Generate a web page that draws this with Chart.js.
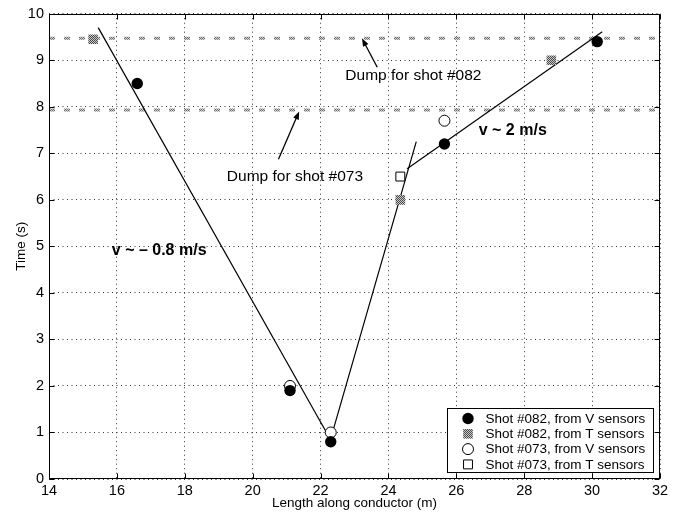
<!DOCTYPE html>
<html>
<head>
<meta charset="utf-8">
<script src="https://cdn.jsdelivr.net/npm/chart.js@4/dist/chart.umd.min.js"></script>
<style>
  html, body { margin: 0; padding: 0; background: #fff; }
  #wrap { width: 674px; height: 515px; }
</style>
</head>
<body>
<div id="wrap"><canvas id="c" width="674" height="515"></canvas></div>
<script>
// ---------------- data ----------------
const xTicks = [14, 16, 18, 20, 22, 24, 26, 28, 30, 32];
const yTicks = [0, 1, 2, 3, 4, 5, 6, 7, 8, 9, 10];

const shot082V_x = [16.6, 21.1, 22.3, 25.65, 30.15];
const shot082V_t = [8.5, 1.9, 0.8, 7.2, 9.4];
const shot082T_x = [15.3, 24.35, 28.8];
const shot082T_t = [9.45, 6.0, 9.0];
const shot073V_x = [21.1, 22.3, 25.65];
const shot073V_t = [2.0, 1.0, 7.7];
const shot073T_x = [24.35];
const shot073T_t = [6.5];

const dump082_t = 9.47;
const dump073_t = 7.93;

const fitDown_x = [15.45, 22.15];
const fitDown_t = [9.70, 1.03];
const fitUp_x = [22.32, 24.82];
const fitUp_t = [0.92, 7.25];
const fitSlow_x = [24.55, 30.3];
const fitSlow_t = [6.67, 9.61];

const seriesLabels = [
  'Shot #082, from V sensors',
  'Shot #082, from T sensors',
  'Shot #073, from V sensors',
  'Shot #073, from T sensors'
];
const noteTexts = ['Dump for shot #082', 'Dump for shot #073', 'v ~ \u2013 0.8 m/s', 'v ~ 2 m/s'];

// ---------------- helpers ----------------
const FONT = '"Liberation Sans", Arial, Helvetica, sans-serif';
function pts(xs, ys) { return xs.map((x, i) => ({ x: x, y: ys[i] })); }

function makeHalftone(light, dark) {
  const c = document.createElement('canvas');
  c.width = 2; c.height = 2;
  const g = c.getContext('2d');
  g.fillStyle = light; g.fillRect(0, 0, 2, 2);
  g.fillStyle = dark; g.fillRect(0, 0, 1, 1); g.fillRect(1, 1, 1, 1);
  return g.createPattern(c, 'repeat');
}
const halftone = makeHalftone('#c8c8c8', '#4a4a4a');
const dumpTone = makeHalftone('#d0d0d0', '#6a6a6a');

// annotation layout (data coordinates)
const notes = [
  { text: noteTexts[0], x: 22.73, y: 8.67, bold: false, size: 15.5, arrow: [[23.67, 8.85], [23.22, 9.47]] },
  { text: noteTexts[1], x: 19.24, y: 6.49, bold: false, size: 15.5, arrow: [[20.76, 6.87], [21.37, 7.90]] },
  { text: noteTexts[2], x: 15.85, y: 4.91, bold: true, size: 16, arrow: null },
  { text: noteTexts[3], x: 26.66, y: 7.49, bold: true, size: 16, arrow: null }
];

const framePlugin = {
  id: 'framePlugin',
  afterDatasetsDraw(chart) {
    const { ctx, chartArea: a, scales } = chart;
    ctx.save();
    ctx.strokeStyle = '#000';
    ctx.lineWidth = 1;
    const L = Math.round(a.left) + 0.5, R = Math.round(a.right) - 0.5;
    const T = Math.round(a.top) + 0.5, B = Math.round(a.bottom) - 0.5;
    ctx.strokeRect(L, T, R - L, B - T);
    const tl = 5;
    ctx.beginPath();
    xTicks.forEach(v => {
      const px = Math.round(scales.x.getPixelForValue(v)) + 0.5;
      ctx.moveTo(px, B); ctx.lineTo(px, B - tl);
      ctx.moveTo(px, T); ctx.lineTo(px, T + tl);
    });
    yTicks.forEach(v => {
      const py = Math.round(scales.y.getPixelForValue(v)) + 0.5;
      ctx.moveTo(L, py); ctx.lineTo(L + tl, py);
      ctx.moveTo(R, py); ctx.lineTo(R - tl, py);
    });
    ctx.stroke();

    // annotations
    ctx.fillStyle = '#000';
    ctx.textBaseline = 'middle';
    ctx.textAlign = 'left';
    notes.forEach(n => {
      ctx.font = (n.bold ? 'bold ' : '') + n.size + 'px ' + FONT;
      ctx.fillText(n.text, scales.x.getPixelForValue(n.x), scales.y.getPixelForValue(n.y));
      if (n.arrow) {
        const x0 = scales.x.getPixelForValue(n.arrow[0][0]), y0 = scales.y.getPixelForValue(n.arrow[0][1]);
        const x1 = scales.x.getPixelForValue(n.arrow[1][0]), y1 = scales.y.getPixelForValue(n.arrow[1][1]);
        const ang = Math.atan2(y1 - y0, x1 - x0);
        const hl = 8, hw = 3;
        ctx.beginPath();
        ctx.moveTo(x0, y0);
        ctx.lineTo(x1 - Math.cos(ang) * hl * 0.8, y1 - Math.sin(ang) * hl * 0.8);
        ctx.lineWidth = 1.3;
        ctx.stroke();
        ctx.beginPath();
        ctx.moveTo(x1, y1);
        ctx.lineTo(x1 - Math.cos(ang) * hl - Math.sin(ang) * hw, y1 - Math.sin(ang) * hl + Math.cos(ang) * hw);
        ctx.lineTo(x1 - Math.cos(ang) * hl + Math.sin(ang) * hw, y1 - Math.sin(ang) * hl - Math.cos(ang) * hw);
        ctx.closePath();
        ctx.fill();
      }
    });

    // legend
    const lw = 206, lh = 64;
    const lx = Math.round(a.right) - 7 - lw, ly = Math.round(a.bottom) - 7 - lh;
    ctx.fillStyle = '#fff';
    ctx.fillRect(lx, ly, lw, lh);
    ctx.lineWidth = 1;
    ctx.strokeStyle = '#000';
    ctx.strokeRect(lx + 0.5, ly + 0.5, lw, lh);
    ctx.font = '13.5px ' + FONT;
    const legendSets = chart.data.datasets.filter(d => d.inLegend);
    legendSets.forEach((d, i) => {
      const cy = ly + 10.5 + i * 15.3;
      const mx = lx + 21;
      ctx.save();
      ctx.fillStyle = d.backgroundColor;
      ctx.strokeStyle = d.borderColor;
      ctx.lineWidth = d.borderWidth || 1;
      ctx.beginPath();
      if (d.pointStyle === 'circle') {
        ctx.arc(mx, cy, d.pointRadius, 0, Math.PI * 2);
      } else {
        const s = Math.SQRT1_2 * d.pointRadius;
        ctx.rect(mx - s, cy - s, 2 * s, 2 * s);
      }
      ctx.fill();
      if (d.borderWidth) ctx.stroke();
      ctx.restore();
      ctx.fillStyle = '#000';
      ctx.fillText(d.label, lx + 38.5, cy + 0.5);
    });
    ctx.restore();
  }
};

const tickFont = { family: FONT, size: 14.5 };
const titleFont = { family: FONT, size: 13.5 };

new Chart(document.getElementById('c'), {
  type: 'scatter',
  data: {
    datasets: [
      { label: seriesLabels[0], inLegend: true, data: pts(shot082V_x, shot082V_t), pointStyle: 'circle', pointRadius: 5.7,
        backgroundColor: '#000', borderColor: '#000', borderWidth: 0, showLine: false },
      { label: seriesLabels[1], inLegend: true, data: pts(shot082T_x, shot082T_t), pointStyle: 'rect', pointRadius: 6.8,
        backgroundColor: halftone, borderColor: '#888', borderWidth: 0, showLine: false },
      { label: seriesLabels[2], inLegend: true, data: pts(shot073V_x, shot073V_t), pointStyle: 'circle', pointRadius: 5.5,
        backgroundColor: '#fff', borderColor: '#000', borderWidth: 1, showLine: false },
      { label: seriesLabels[3], inLegend: true, data: pts(shot073T_x, shot073T_t), pointStyle: 'rect', pointRadius: 6.3,
        backgroundColor: '#fff', borderColor: '#000', borderWidth: 1, showLine: false },
      { label: 'fit down', data: pts(fitDown_x, fitDown_t), showLine: true, pointRadius: 0, borderColor: '#000', borderWidth: 1.2 },
      { label: 'fit up', data: pts(fitUp_x, fitUp_t), showLine: true, pointRadius: 0, borderColor: '#000', borderWidth: 1.2 },
      { label: 'fit slow', data: pts(fitSlow_x, fitSlow_t), showLine: true, pointRadius: 0, borderColor: '#000', borderWidth: 1.2 },
      { label: 'dump 082', data: [{ x: xTicks[0], y: dump082_t }, { x: xTicks[xTicks.length - 1], y: dump082_t }],
        showLine: true, pointRadius: 0, borderColor: dumpTone, borderWidth: 3, borderDash: [6, 9] },
      { label: 'dump 073', data: [{ x: xTicks[0], y: dump073_t }, { x: xTicks[xTicks.length - 1], y: dump073_t }],
        showLine: true, pointRadius: 0, borderColor: dumpTone, borderWidth: 3, borderDash: [6, 9] }
    ]
  },
  options: {
    responsive: false,
    animation: false,
    events: [],
    layout: { padding: { left: 0, right: 14, top: 13, bottom: 0 } },
    plugins: { legend: { display: false }, tooltip: { enabled: false } },
    scales: {
      x: {
        type: 'linear', min: 14, max: 32,
        afterBuildTicks(s) { s.ticks = xTicks.map(v => ({ value: v })); },
        afterFit(s) { s.height = 36; },
        ticks: { font: tickFont, color: '#000', padding: 3, maxRotation: 0 },
        grid: { color: '#333', lineWidth: 1, drawTicks: false },
        border: { display: false, dash: [1, 3.5] },
        title: { display: true, text: 'Length along conductor (m)', font: titleFont, color: '#000', padding: { top: 0, bottom: 4 } }
      },
      y: {
        type: 'linear', min: 0, max: 10,
        afterBuildTicks(s) { s.ticks = yTicks.map(v => ({ value: v })); },
        afterFit(s) { s.width = 49; },
        ticks: { font: tickFont, color: '#000', padding: 5 },
        grid: { color: '#333', lineWidth: 1, drawTicks: false },
        border: { display: false, dash: [1, 3.5] },
        title: { display: true, text: 'Time (s)', font: titleFont, color: '#000', padding: { top: 13, bottom: 0 } }
      }
    }
  },
  plugins: [framePlugin]
});
</script>
</body>
</html>
